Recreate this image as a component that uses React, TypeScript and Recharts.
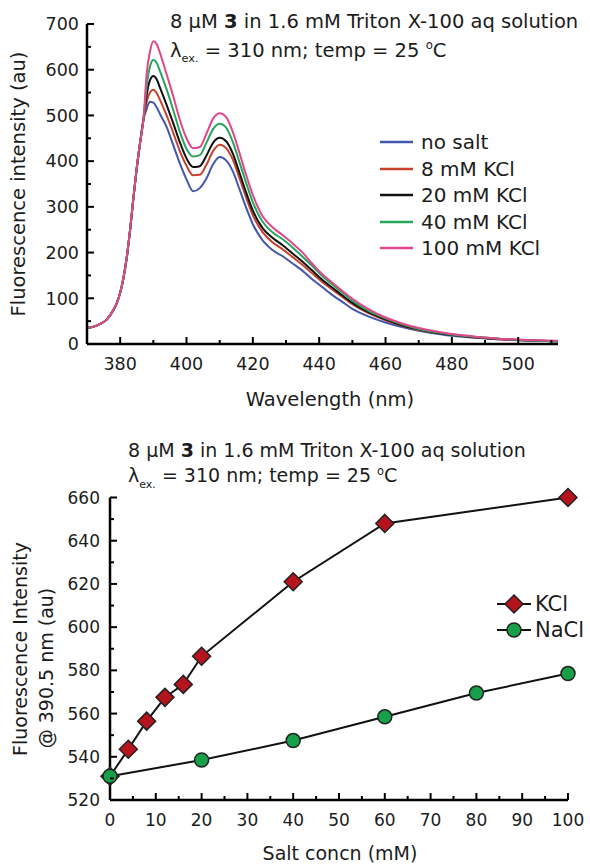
import React from 'react';
import { LineChart, Line, XAxis, YAxis, Legend } from 'recharts';

// ---- top panel: emission spectra ----
const wavelength = [
  370, 372, 374, 376, 378, 379, 380, 381, 382, 383, 384, 385, 386, 387,
  388, 389, 390, 391, 392, 394, 396, 398, 400, 402, 404, 406, 408, 410, 412, 414, 416, 418, 420,
  423, 426, 429, 432, 435, 438, 441, 444, 447, 450,
  455, 460, 465, 470, 475, 480, 485, 490, 495, 500, 506, 512,
];
const rise = [35, 38, 44, 54, 75, 90, 112, 145, 190, 250, 320, 385, 440, 490];

const noSalt = [...rise,
  515, 530, 528, 518, 503, 475, 435, 395, 360, 334, 341, 362, 393, 409, 401, 377, 338, 298, 262,
  226, 205, 192, 176, 160, 141, 124, 107, 92, 77,
  60, 47, 37, 29, 23, 18, 15, 12, 10, 8, 7, 6];
const kcl8 = [...rise,
  530, 550, 556, 549, 534, 500, 462, 422, 390, 369, 370, 392, 422, 436, 428, 403, 362, 320, 282,
  244, 222, 207, 190, 173, 154, 135, 119, 103, 87,
  67, 52, 40, 31, 25, 20, 16, 13, 10, 9, 7, 6];
const kcl20 = [...rise,
  545, 577, 586, 579, 561, 523, 483, 441, 406, 387, 389, 412, 440, 451, 443, 416, 374, 331, 292,
  253, 232, 216, 198, 180, 160, 140, 123, 106, 90,
  69, 54, 41, 32, 25, 20, 16, 13, 11, 9, 7, 6];
const kcl40 = [...rise,
  565, 607, 621, 615, 597, 557, 512, 464, 427, 410, 413, 440, 470, 482, 473, 441, 397, 352, 310,
  267, 244, 229, 211, 191, 170, 148, 130, 112, 95,
  72, 56, 43, 33, 26, 21, 17, 14, 11, 9, 7, 6];
const kcl100 = [...rise,
  592, 640, 662, 656, 637, 590, 542, 490, 450, 428, 431, 460, 493, 505, 496, 463, 417, 369, 326,
  279, 255, 238, 220, 200, 175, 152, 134, 116, 99,
  76, 58, 45, 35, 28, 22, 18, 14, 11, 10, 8, 7];

const spectra = [
  { key: 'noSalt', name: 'no salt', values: noSalt, color: '#4257ad' },
  { key: 'kcl8', name: '8 mM KCl', values: kcl8, color: '#c7412f' },
  { key: 'kcl20', name: '20 mM KCl', values: kcl20, color: '#111111' },
  { key: 'kcl40', name: '40 mM KCl', values: kcl40, color: '#26a65b' },
  { key: 'kcl100', name: '100 mM KCl', values: kcl100, color: '#e2468b' },
];

const wlTicks = [380, 390, 400, 410, 420, 430, 440, 450, 460, 470, 480, 490, 500, 510];
const intTicks = [0, 50, 100, 150, 200, 250, 300, 350, 400, 450, 500, 550, 600, 650, 700];

// ---- bottom panel: intensity at 390.5 nm vs salt ----
const saltKCl = [0, 4, 8, 12, 16, 20, 40, 60, 100];
const fluorKCl = [531, 543.5, 556.5, 567.5, 573.5, 586.5, 621, 648, 660];
const saltNaCl = [0, 20, 40, 60, 80, 100];
const fluorNaCl = [531, 538.5, 547.5, 558.5, 569.5, 578.5];

const saltTicks = [0, 5, 10, 15, 20, 25, 30, 35, 40, 45, 50, 55, 60, 65, 70, 75, 80, 85, 90, 95, 100];
const f390Ticks = [520, 530, 540, 550, 560, 570, 580, 590, 600, 610, 620, 630, 640, 650, 660];
const saltSeries = ['KCl', 'NaCl'];

const spectrumData = wavelength.map((wl, i) => {
  const row: any = { wl };
  spectra.forEach((s) => { row[s.key] = s.values[i]; });
  return row;
});
const kclData = saltKCl.map((c, i) => ({ conc: c, f: fluorKCl[i] }));
const naclData = saltNaCl.map((c, i) => ({ conc: c, f: fluorNaCl[i] }));

const FONT = '"DejaVu Sans", sans-serif';
const INK = '#1c1c1c';
const RED = '#b5141f';
const GREEN = '#17a04a';

const xTick = (step: number, fs: number) => (props: any) => {
  const { x, y, payload } = props;
  const major = payload.value % step === 0;
  return (
    <g>
      <line x1={x} y1={y} x2={x} y2={y - (major ? 7 : 4)} stroke="#000" strokeWidth={2} />
      {major && (
        <text x={x} y={y + 20} dy="0.36em" textAnchor="middle" fontSize={fs} fontFamily={FONT} fill={INK}>
          {payload.value}
        </text>
      )}
    </g>
  );
};

const yTick = (step: number, fs: number, gap: number) => (props: any) => {
  const { x, y, payload } = props;
  const major = payload.value % step === 0;
  return (
    <g>
      <line x1={x} y1={y} x2={x + (major ? 7 : 4)} y2={y} stroke="#000" strokeWidth={2} />
      {major && (
        <text x={x - gap} y={y} dy="0.36em" textAnchor="end" fontSize={fs} fontFamily={FONT} fill={INK}>
          {payload.value}
        </text>
      )}
    </g>
  );
};

const diamond = (props: any) => {
  const { cx, cy, index } = props;
  return (
    <path key={'d' + index} d={`M${cx},${cy - 9}L${cx + 9},${cy}L${cx},${cy + 9}L${cx - 9},${cy}Z`}
      fill={RED} stroke="#222" strokeWidth={1.5} />
  );
};
const circle = (props: any) => {
  const { cx, cy, index } = props;
  return <circle key={'c' + index} cx={cx} cy={cy} r={7} fill={GREEN} stroke="#222" strokeWidth={1.5} />;
};

// legend sorts its payload by name, so put it back into series order
const inOrder = (payload: any[], names: string[]) =>
  [...payload].sort((a, b) => names.indexOf(a.value) - names.indexOf(b.value));

const spectraLegend = (props: any) => (
  <div style={{ fontFamily: FONT, fontSize: 20, color: INK }}>
    {inOrder(props.payload, spectra.map((s) => s.name)).map((p: any) => (
      <div key={p.value} style={{ display: 'flex', alignItems: 'center', height: 26.5 }}>
        <svg width={33} height={4} style={{ marginRight: 8 }}>
          <line x1={0} y1={2} x2={33} y2={2} stroke={p.color} strokeWidth={2.5} />
        </svg>
        <span style={{ whiteSpace: 'nowrap' }}>{p.value}</span>
      </div>
    ))}
  </div>
);

const saltLegend = (props: any) => (
  <div style={{ fontFamily: FONT, fontSize: 21, color: INK }}>
    {inOrder(props.payload, saltSeries).map((p: any) => (
      <div key={p.value} style={{ display: 'flex', alignItems: 'center', height: 26 }}>
        <svg width={34} height={22} style={{ marginRight: 4 }}>
          <line x1={0} y1={11} x2={34} y2={11} stroke="#111" strokeWidth={2} />
          {p.value === 'KCl'
            ? <path d="M17,2L26,11L17,20L8,11Z" fill={RED} stroke="#222" strokeWidth={1.5} />
            : <circle cx={17} cy={11} r={7} fill={GREEN} stroke="#222" strokeWidth={1.5} />}
        </svg>
        <span>{p.value}</span>
      </div>
    ))}
  </div>
);

const abs = (left: number, top: number, fs: number, extra: any = {}): any => ({
  position: 'absolute', left, top, fontSize: fs, fontFamily: FONT, color: INK,
  lineHeight: 1, whiteSpace: 'nowrap', ...extra,
});
const rot = (cx: number, cy: number, fs: number): any => ({
  position: 'absolute', left: cx, top: cy, fontSize: fs, fontFamily: FONT, color: INK,
  lineHeight: 1, whiteSpace: 'nowrap', transform: 'translate(-50%, -50%) rotate(-90deg)',
});

const Title = ({ left, top, fs, gap }: { left: number; top: number; fs: number; gap: number }) => (
  <>
    <div style={abs(left, top, fs)}>
      8 μM <b>3</b> in 1.6 mM Triton X-100 aq solution
    </div>
    <div style={abs(left, top + gap, fs)}>
      λ<span style={{ fontSize: fs * 0.58, position: 'relative', top: fs * 0.3 }}>ex.</span> = 310 nm; temp = 25{' '}
      <span style={{ fontSize: fs * 0.6, position: 'relative', top: -fs * 0.38 }}>o</span>C
    </div>
  </>
);

export default function App() {
  return (
    <div style={{ position: 'absolute', left: 0, top: 0, width: 590, height: 865, background: '#fff', overflow: 'hidden' }}>
      <div style={{ position: 'absolute', left: 0, top: 0 }}>
        <LineChart width={590} height={420} data={spectrumData} margin={{ top: 24, right: 32, bottom: 0, left: 0 }}>
          <XAxis dataKey="wl" type="number" domain={[370, 512]} ticks={wlTicks} interval={0}
            tickSize={0} tickMargin={0} tickLine={false} axisLine={{ stroke: '#000', strokeWidth: 2.5 }}
            tick={xTick(20, 17.5)} height={76} />
          <YAxis type="number" domain={[0, 700]} ticks={intTicks} interval={0}
            tickSize={0} tickMargin={0} tickLine={false} axisLine={{ stroke: '#000', strokeWidth: 2.5 }}
            tick={yTick(100, 17.5, 8)} width={87} />
          {spectra.map((s) => (
            <Line key={s.key} dataKey={s.key} name={s.name} type="monotone" stroke={s.color}
              strokeWidth={2} dot={false} isAnimationActive={false} />
          ))}
          <Legend layout="vertical" align="center" verticalAlign="middle" content={spectraLegend}
            wrapperStyle={{ left: 380, top: 128.75, width: 200 }} />
        </LineChart>
      </div>

      <div style={{ position: 'absolute', left: 0, top: 430 }}>
        <LineChart width={590} height={435} margin={{ top: 67.5, right: 22, bottom: 0, left: 0 }}>
          <XAxis dataKey="conc" type="number" domain={[0, 100]} ticks={saltTicks} interval={0}
            tickSize={0} tickMargin={0} tickLine={false} axisLine={{ stroke: '#000', strokeWidth: 2.5 }}
            tick={xTick(10, 17)} height={65} />
          <YAxis type="number" domain={[520, 660]} ticks={f390Ticks} interval={0}
            tickSize={0} tickMargin={0} tickLine={false} axisLine={{ stroke: '#000', strokeWidth: 2.5 }}
            tick={yTick(20, 17, 10)} width={110} />
          <Line data={kclData} dataKey="f" name="KCl" type="linear" stroke="#111" strokeWidth={2}
            dot={diamond} isAnimationActive={false} />
          <Line data={naclData} dataKey="f" name="NaCl" type="linear" stroke="#111" strokeWidth={2}
            dot={circle} isAnimationActive={false} />
          <Legend layout="vertical" align="center" verticalAlign="middle" content={saltLegend}
            wrapperStyle={{ left: 497, top: 161, width: 90 }} />
        </LineChart>
      </div>

      <Title left={170} top={11.5} fs={19.5} gap={29} />
      <div style={rot(19, 184, 19.5)}>Fluorescence intensity (au)</div>
      <div style={{ ...abs(330, 400, 19.5), transform: 'translate(-50%, -50%)' }}>Wavelength (nm)</div>

      <Title left={128} top={441} fs={19} gap={25} />
      <div style={rot(20, 649, 19)}>Fluorescence Intensity</div>
      <div style={rot(46, 668, 19)}>@ 390.5 nm (au)</div>
      <div style={{ ...abs(340, 853, 19), transform: 'translate(-50%, -50%)' }}>Salt concn (mM)</div>
    </div>
  );
}
